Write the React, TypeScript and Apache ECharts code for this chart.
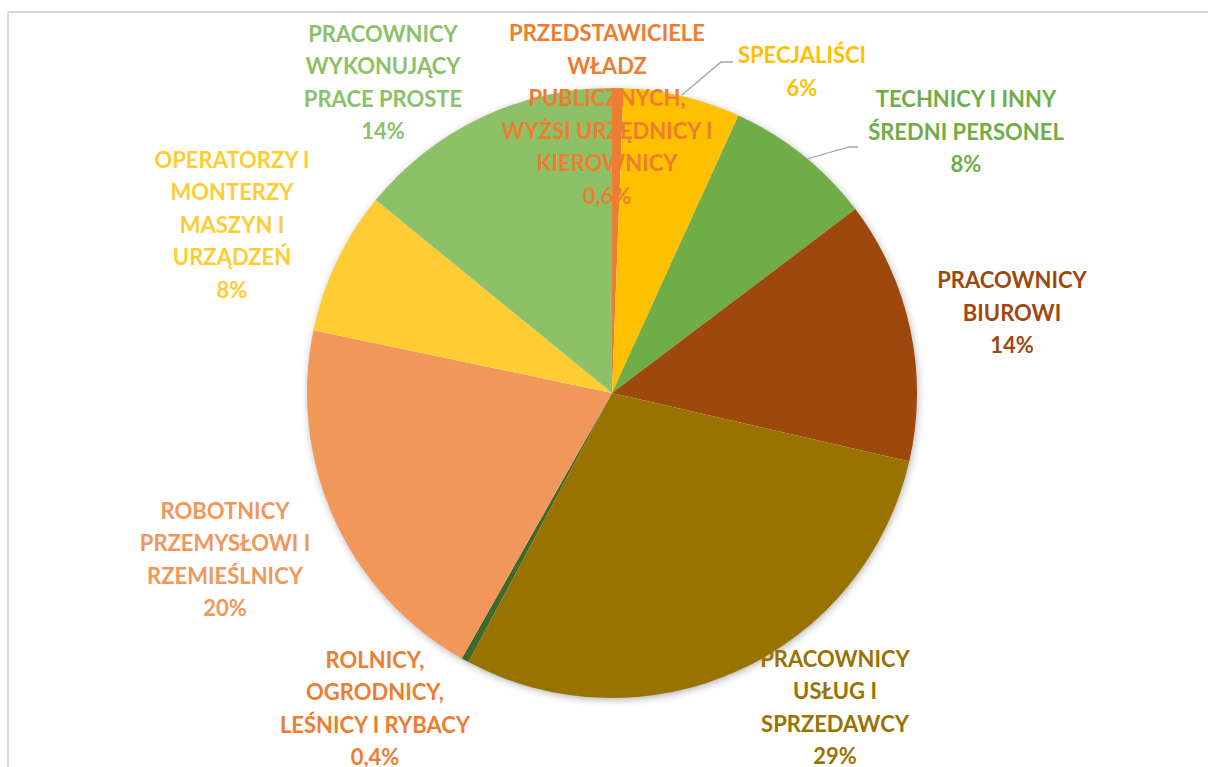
import React, { useEffect, useRef } from "react";
import * as echarts from "echarts";

const categories = [
  "PRZEDSTAWICIELE\nWŁADZ\nPUBLICZNYCH,\nWYŻSI URZĘDNICY I\nKIEROWNICY",
  "SPECJALIŚCI",
  "TECHNICY I INNY\nŚREDNI PERSONEL",
  "PRACOWNICY\nBIUROWI",
  "PRACOWNICY\nUSŁUG I\nSPRZEDAWCY",
  "ROLNICY,\nOGRODNICY,\nLEŚNICY I RYBACY",
  "ROBOTNICY\nPRZEMYSŁOWI I\nRZEMIEŚLNICY",
  "OPERATORZY I\nMONTERZY\nMASZYN I\nURZĄDZEŃ",
  "PRACOWNICY\nWYKONUJĄCY\nPRACE PROSTE",
];
const values = [0.6, 6.2, 7.9, 13.9, 29.2, 0.4, 20.1, 7.6, 14.1];
const percentLabels = ["0,6%", "6%", "8%", "14%", "29%", "0,4%", "20%", "8%", "14%"];
const sliceColors = ["#ED7D31", "#FFC000", "#70AD47", "#9E480E", "#997300", "#43682B", "#F1975A", "#FFCD33", "#8CC168"];
const labelColors = ["#ED7D31", "#FFC000", "#70AD47", "#9E480E", "#997300", "#ED7D31", "#F1975A", "#FFCD33", "#8CC168"];
// label centers (page px)
const labelPos: [number, number][] = [
  [607, 114],
  [802, 71],
  [966, 131],
  [1012, 312],
  [835, 707],
  [375, 708],
  [225, 559],
  [232, 224],
  [383, 82],
];
const leaderLines: Record<number, [number, number][]> = {
  1: [[682, 95], [721, 62], [733, 62]],
  2: [[800, 161], [849, 147], [858, 147]],
};

export default function App() {
  const ref = useRef<HTMLDivElement>(null);
  useEffect(() => {
    if (!ref.current) return;
    const chart = echarts.init(ref.current, null, { renderer: "svg" });
    chart.setOption({
      animation: false,
      backgroundColor: "#ffffff",
      graphic: [
        { type: "line", shape: { x1: 8, y1: 12, x2: 1208, y2: 12 }, style: { stroke: "#d9d9d9", lineWidth: 2 } },
        { type: "line", shape: { x1: 8, y1: 12, x2: 8, y2: 767 }, style: { stroke: "#d9d9d9", lineWidth: 2 } },
        {
          type: "circle",
          z: 0,
          shape: { cx: 612, cy: 393, r: 304 },
          style: { fill: "#ffffff", shadowBlur: 8, shadowColor: "rgba(0,0,0,0.35)", shadowOffsetX: 1, shadowOffsetY: 2 },
        },
      ],
      series: [
        {
          type: "pie",
          z: 2,
          center: [612, 393],
          radius: 305,
          startAngle: 90,
          clockwise: true,
          avoidLabelOverlap: false,
          data: values.map((v, i) => ({
            name: categories[i],
            value: v,
            itemStyle: { color: sliceColors[i] },
            label: { color: labelColors[i] },
            labelLine: { show: !!leaderLines[i], lineStyle: { color: "#a6a6a6", width: 1.3 } },
          })),
          itemStyle: { borderWidth: 0 },
          label: {
            show: true,
            position: "outside",
            formatter: (p: any) => `${p.name}\n${percentLabels[p.dataIndex]}`,
            fontFamily: "Lato, 'Open Sans', sans-serif",
            fontWeight: "bold",
            fontSize: 22,
            lineHeight: 32.5,
            align: "center",
          },
          labelLayout: (params: any) => {
            const i = params.dataIndex;
            const [x, y] = labelPos[i];
            const res: any = { x, y, align: "center", verticalAlign: "middle" };
            if (leaderLines[i]) res.labelLinePoints = leaderLines[i];
            return res;
          },
        },
      ],
    });
    return () => chart.dispose();
  }, []);
  return <div ref={ref} style={{ position: "absolute", left: 0, top: 0, width: 1208, height: 767 }} />;
}
